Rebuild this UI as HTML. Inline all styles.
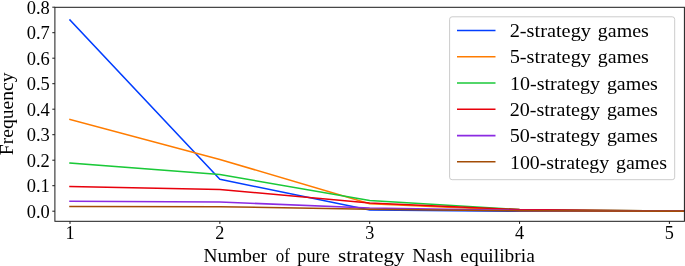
<!DOCTYPE html>
<html><head><meta charset="utf-8"><title>Frequency of pure strategy Nash equilibria</title>
<style>
html,body{margin:0;padding:0;background:#fff;}
svg{display:block;}
text{font-family:"Liberation Serif",serif;font-size:18.2px;fill:#000;}
</style></head><body>
<svg width="685" height="266" viewBox="0 0 685 266">
<rect x="0" y="0" width="685" height="266" fill="#ffffff"/>
<defs><clipPath id="ax"><rect x="54.9" y="7.3" width="629.5" height="214.0"/></clipPath></defs>

<g clip-path="url(#ax)" fill="none" stroke-width="1.55" stroke-linejoin="round" stroke-linecap="square">
<polyline stroke="#023eff" points="70.00,19.95 219.85,179.32 369.70,209.92 519.55,211.20 669.40,211.20 819.25,211.20"/>
<polyline stroke="#ff7c00" points="70.00,119.40 219.85,159.44 369.70,203.80 519.55,210.44 669.40,211.12 819.25,211.20"/>
<polyline stroke="#1ac938" points="70.00,163.00 219.85,174.48 369.70,200.59 519.55,209.54 669.40,210.94 819.25,211.20"/>
<polyline stroke="#e8000b" points="70.00,186.59 219.85,189.40 369.70,202.99 519.55,209.62 669.40,210.94 819.25,211.20"/>
<polyline stroke="#8b2be2" points="70.00,201.31 219.85,202.02 369.70,208.04 519.55,210.44 669.40,211.07 819.25,211.20"/>
<polyline stroke="#a34c06" points="70.00,206.46 219.85,206.66 369.70,209.26 519.55,210.82 669.40,211.12 819.25,211.20"/>
</g>
<rect x="54.9" y="7.3" width="629.5" height="214.0" fill="none" stroke="#1a1a1a" stroke-width="1"/>
<g stroke="#1a1a1a" stroke-width="1">
<line x1="52.3" y1="211.20" x2="54.9" y2="211.20"/>
<line x1="52.3" y1="185.70" x2="54.9" y2="185.70"/>
<line x1="52.3" y1="160.20" x2="54.9" y2="160.20"/>
<line x1="52.3" y1="134.70" x2="54.9" y2="134.70"/>
<line x1="52.3" y1="109.20" x2="54.9" y2="109.20"/>
<line x1="52.3" y1="83.70" x2="54.9" y2="83.70"/>
<line x1="52.3" y1="58.20" x2="54.9" y2="58.20"/>
<line x1="52.3" y1="32.70" x2="54.9" y2="32.70"/>
<line x1="52.3" y1="7.20" x2="54.9" y2="7.20"/>
<line x1="70.00" y1="221.3" x2="70.00" y2="223.9"/>
<line x1="219.85" y1="221.3" x2="219.85" y2="223.9"/>
<line x1="369.70" y1="221.3" x2="369.70" y2="223.9"/>
<line x1="519.55" y1="221.3" x2="519.55" y2="223.9"/>
<line x1="669.40" y1="221.3" x2="669.40" y2="223.9"/>
</g>
<text x="26.7" y="217.8" textLength="23.1" lengthAdjust="spacingAndGlyphs">0.0</text>
<text x="26.7" y="192.3" textLength="23.1" lengthAdjust="spacingAndGlyphs">0.1</text>
<text x="26.7" y="166.8" textLength="23.1" lengthAdjust="spacingAndGlyphs">0.2</text>
<text x="26.7" y="141.3" textLength="23.1" lengthAdjust="spacingAndGlyphs">0.3</text>
<text x="26.7" y="115.8" textLength="23.1" lengthAdjust="spacingAndGlyphs">0.4</text>
<text x="26.7" y="90.3" textLength="23.1" lengthAdjust="spacingAndGlyphs">0.5</text>
<text x="26.7" y="64.8" textLength="23.1" lengthAdjust="spacingAndGlyphs">0.6</text>
<text x="26.7" y="39.3" textLength="23.1" lengthAdjust="spacingAndGlyphs">0.7</text>
<text x="26.7" y="13.8" textLength="23.1" lengthAdjust="spacingAndGlyphs">0.8</text>
<text x="70.0" y="238.5" text-anchor="middle">1</text>
<text x="219.8" y="238.5" text-anchor="middle">2</text>
<text x="369.7" y="238.5" text-anchor="middle">3</text>
<text x="519.5" y="238.5" text-anchor="middle">4</text>
<text x="669.4" y="238.5" text-anchor="middle">5</text>
<text y="262"><tspan x="203.5" textLength="63.5" lengthAdjust="spacingAndGlyphs">Number</tspan> <tspan x="275.7" textLength="14.1" lengthAdjust="spacingAndGlyphs">of</tspan> <tspan x="297.3" textLength="32.5" lengthAdjust="spacingAndGlyphs">pure</tspan> <tspan x="338.0" textLength="66.5" lengthAdjust="spacingAndGlyphs">strategy</tspan> <tspan x="412.2" textLength="40.4" lengthAdjust="spacingAndGlyphs">Nash</tspan> <tspan x="460.3" textLength="74.5" lengthAdjust="spacingAndGlyphs">equilibria</tspan></text>
<text transform="translate(12.7,155.2) rotate(-90)" x="0" y="0" textLength="82.7" lengthAdjust="spacingAndGlyphs">Frequency</text>
<rect x="449.6" y="16.8" width="225.1" height="162.9" rx="2.5" ry="2.5" fill="#ffffff" fill-opacity="0.8" stroke="#cccccc" stroke-width="1"/>
<line x1="457" y1="30.5" x2="495.5" y2="30.5" stroke="#023eff" stroke-width="1.55"/>
<text class="lg" y="37.0"><tspan x="509.7" textLength="81.3" lengthAdjust="spacingAndGlyphs">2-strategy</tspan> <tspan x="597.8" textLength="51.0" lengthAdjust="spacingAndGlyphs">games</tspan></text>
<line x1="457" y1="56.8" x2="495.5" y2="56.8" stroke="#ff7c00" stroke-width="1.55"/>
<text class="lg" y="63.3"><tspan x="509.7" textLength="81.3" lengthAdjust="spacingAndGlyphs">5-strategy</tspan> <tspan x="597.8" textLength="51.0" lengthAdjust="spacingAndGlyphs">games</tspan></text>
<line x1="457" y1="83.0" x2="495.5" y2="83.0" stroke="#1ac938" stroke-width="1.55"/>
<text class="lg" y="89.6"><tspan x="510.0" textLength="90.1" lengthAdjust="spacingAndGlyphs">10-strategy</tspan> <tspan x="606.9" textLength="51.0" lengthAdjust="spacingAndGlyphs">games</tspan></text>
<line x1="457" y1="109.3" x2="495.5" y2="109.3" stroke="#e8000b" stroke-width="1.55"/>
<text class="lg" y="115.9"><tspan x="509.7" textLength="90.4" lengthAdjust="spacingAndGlyphs">20-strategy</tspan> <tspan x="606.9" textLength="51.0" lengthAdjust="spacingAndGlyphs">games</tspan></text>
<line x1="457" y1="135.6" x2="495.5" y2="135.6" stroke="#8b2be2" stroke-width="1.55"/>
<text class="lg" y="142.2"><tspan x="509.7" textLength="90.4" lengthAdjust="spacingAndGlyphs">50-strategy</tspan> <tspan x="606.9" textLength="51.0" lengthAdjust="spacingAndGlyphs">games</tspan></text>
<line x1="457" y1="161.8" x2="495.5" y2="161.8" stroke="#a34c06" stroke-width="1.55"/>
<text class="lg" y="168.5"><tspan x="510.0" textLength="99.2" lengthAdjust="spacingAndGlyphs">100-strategy</tspan> <tspan x="616.0" textLength="51.0" lengthAdjust="spacingAndGlyphs">games</tspan></text>
</svg></body></html>
